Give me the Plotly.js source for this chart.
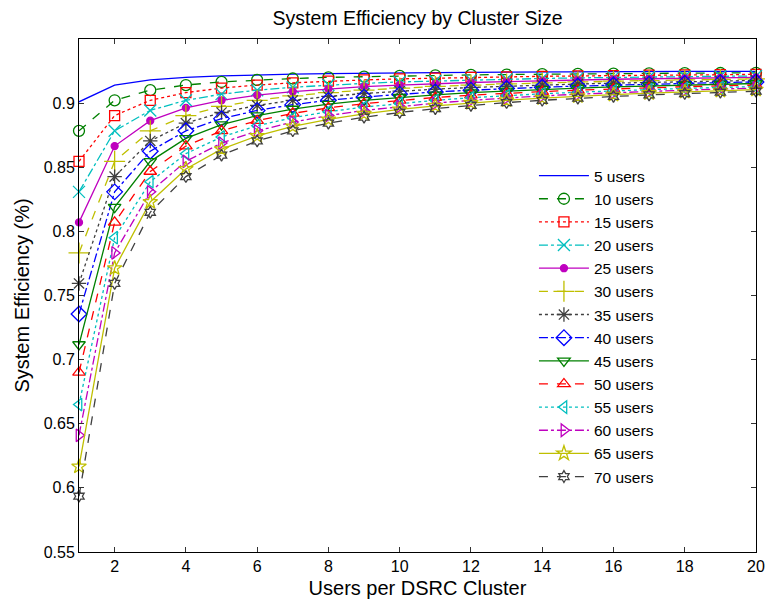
<!DOCTYPE html>
<html>
<head>
<meta charset="utf-8">
<script src="https://cdn.plot.ly/plotly-3.0.1.min.js"></script>
<style>html,body{margin:0;padding:0;background:#fff;}#chart{width:765px;height:600px;}</style>
</head>
<body>
<div id="chart"></div>
<script>
// Users per DSRC cluster (x values)
const usersPerCluster = [1,2,3,4,5,6,7,8,9,10,11,12,13,14,15,16,17,18,19,20];

// Series names
const seriesNames = ["5 users","10 users","15 users","20 users","25 users","30 users","35 users",
                     "40 users","45 users","50 users","55 users","60 users","65 users","70 users"];

// System efficiency values
const eff5  = [0.901,0.9141,0.9181,0.9201,0.9212,0.9220,0.9226,0.9230,0.9234,0.9236,0.9238,0.9240,0.9242,0.9243,0.9244,0.9245,0.9246,0.9247,0.9247,0.9248];
const eff10 = [0.8784,0.9022,0.9101,0.9141,0.9165,0.9181,0.9192,0.9201,0.9207,0.9212,0.9217,0.9220,0.9223,0.9226,0.9228,0.9230,0.9232,0.9234,0.9235,0.9236];
const eff15 = [0.8546,0.8903,0.9022,0.9082,0.9117,0.9141,0.9158,0.9171,0.9181,0.9189,0.9195,0.9201,0.9205,0.9209,0.9212,0.9215,0.9218,0.9220,0.9222,0.9224];
const eff20 = [0.8308,0.8784,0.8943,0.9022,0.9070,0.9101,0.9124,0.9141,0.9154,0.9165,0.9173,0.9181,0.9187,0.9192,0.9197,0.9201,0.9204,0.9207,0.9210,0.9212];
const eff25 = [0.807,0.8665,0.8863,0.8963,0.9022,0.9062,0.9090,0.9111,0.9128,0.9141,0.9152,0.9161,0.9168,0.9175,0.9181,0.9186,0.9190,0.9194,0.9197,0.9201];
const eff30 = [0.7832,0.8546,0.8784,0.8903,0.8974,0.9022,0.9056,0.9082,0.9101,0.9117,0.9130,0.9141,0.9150,0.9158,0.9165,0.9171,0.9176,0.9181,0.9185,0.9189];
const eff35 = [0.7594,0.8427,0.8705,0.8844,0.8927,0.8982,0.9022,0.9052,0.9075,0.9093,0.9109,0.9122,0.9132,0.9141,0.9149,0.9156,0.9162,0.9167,0.9172,0.9177];
const eff40 = [0.7356,0.8308,0.8625,0.8784,0.8879,0.8943,0.8988,0.9022,0.9048,0.9070,0.9087,0.9101,0.9114,0.9124,0.9133,0.9141,0.9148,0.9154,0.9160,0.9165];
const eff45 = [0.7118,0.8189,0.8546,0.8725,0.8832,0.8903,0.8954,0.8992,0.9022,0.9046,0.9065,0.9082,0.9095,0.9107,0.9117,0.9126,0.9134,0.9141,0.9147,0.9153];
const eff50 = [0.690,0.807,0.8467,0.8665,0.8784,0.8863,0.8920,0.8963,0.8996,0.9022,0.9044,0.9062,0.9077,0.9090,0.9101,0.9111,0.9120,0.9128,0.9135,0.9141];
const eff55 = [0.6650,0.7951,0.8387,0.8606,0.8736,0.8824,0.8886,0.8933,0.8969,0.8998,0.9022,0.9042,0.9059,0.9073,0.9085,0.9096,0.9106,0.9115,0.9122,0.9129];
const eff60 = [0.6410,0.7832,0.8308,0.8546,0.8689,0.8784,0.8852,0.8903,0.8943,0.8974,0.9000,0.9022,0.9040,0.9056,0.9070,0.9082,0.9092,0.9101,0.9110,0.9117];
const eff65 = [0.6166,0.7713,0.8229,0.8487,0.8641,0.8744,0.8818,0.8873,0.8916,0.8951,0.8979,0.9002,0.9022,0.9039,0.9054,0.9066,0.9078,0.9088,0.9097,0.9105];
const eff70 = [0.5935,0.7594,0.8149,0.8427,0.8594,0.8705,0.8784,0.8844,0.8890,0.8927,0.8957,0.8982,0.9004,0.9022,0.9038,0.9052,0.9064,0.9075,0.9085,0.9093];

const seriesValues = [eff5,eff10,eff15,eff20,eff25,eff30,eff35,eff40,eff45,eff50,eff55,eff60,eff65,eff70];

// Tick labels
const xTickVals = [2,4,6,8,10,12,14,16,18,20];
const xTickText = ["2","4","6","8","10","12","14","16","18","20"];
const yTickVals = [0.55,0.6,0.65,0.7,0.75,0.8,0.85,0.9];
const yTickText = ["0.55","0.6","0.65","0.7","0.75","0.8","0.85","0.9"];

// Styles (MATLAB-like)
const B = "#0000ff", G = "#008000", R = "#ff0000", C = "#00bfbf", M = "#bf00bf", Y = "#bfbf00", K = "#404040";
const styles = [
  {color:B, dash:"solid",   symbol:null,                 size:0},
  {color:G, dash:"dash",    symbol:"circle-open",        size:11},
  {color:R, dash:"dot",     symbol:"square-open",        size:10},
  {color:C, dash:"dashdot", symbol:"x-thin-open",        size:12},
  {color:M, dash:"solid",   symbol:"circle",             size:7},
  {color:Y, dash:"dash",    symbol:"cross-thin-open",    size:15},
  {color:K, dash:"dot",     symbol:"asterisk-open",      size:12},
  {color:B, dash:"dashdot", symbol:"diamond-open",       size:12},
  {color:G, dash:"solid",   symbol:"triangle-down-open", size:11},
  {color:R, dash:"dash",    symbol:"triangle-up-open",   size:11},
  {color:C, dash:"dot",     symbol:"triangle-left-open", size:11},
  {color:M, dash:"dashdot", symbol:"triangle-right-open",size:11},
  {color:Y, dash:"solid",   symbol:"star-open",          size:11},
  {color:K, dash:"dash",    symbol:"hexagram-open",      size:9}
];

const traces = seriesValues.map((vals, i) => {
  const s = styles[i];
  const t = {
    x: usersPerCluster, y: vals, name: seriesNames[i], type: "scatter",
    mode: s.symbol ? "lines+markers" : "lines",
    line: {color: s.color, width: 1.3, dash: s.dash},
    cliponaxis: false
  };
  if (s.symbol) {
    t.marker = {symbol: s.symbol, size: s.size, color: s.color, line: {color: s.color, width: 1.3}};
  }
  return t;
});

const font = "Liberation Sans, Arial, Helvetica, sans-serif";
const layout = {
  width: 765, height: 600,
  margin: {l: 79, r: 9, t: 39, b: 48},
  paper_bgcolor: "#fff", plot_bgcolor: "#fff",
  font: {family: font, size: 16, color: "#000"},
  title: {text: "System Efficiency by Cluster Size", font: {family: font, size: 19.5, color: "#000"},
          x: 0.5, xref: "paper", xanchor: "center", y: 0.97, yanchor: "middle"},
  xaxis: {
    range: [1, 20], tickvals: xTickVals, ticktext: xTickText,
    ticks: "inside", ticklen: 5, tickcolor: "#333", tickwidth: 1,
    showline: true, linecolor: "#000", linewidth: 1, mirror: "ticks",
    showgrid: false, zeroline: false, ticklabeloverflow: "allow",
    tickfont: {family: font, size: 16, color: "#000"},
    title: {text: "Users per DSRC Cluster", font: {family: font, size: 20, color: "#000"}, standoff: 6}
  },
  yaxis: {
    range: [0.55, 0.95], tickvals: yTickVals, ticktext: yTickText,
    ticks: "inside", ticklen: 5, tickcolor: "#333", tickwidth: 1,
    showline: true, linecolor: "#000", linewidth: 1, mirror: "ticks",
    showgrid: false, zeroline: false,
    tickfont: {family: font, size: 16, color: "#000"},
    title: {text: "System Efficiency (%)", font: {family: font, size: 20, color: "#000"}, standoff: 8}
  },
  legend: {
    x: 0.672, y: 0.766, xanchor: "left", yanchor: "top",
    bgcolor: "rgba(255,255,255,1)", borderwidth: 0,
    font: {family: font, size: 15.5, color: "#000"},
    itemwidth: 50,
    tracegroupgap: 0
  },
  showlegend: true
};

Plotly.newPlot("chart", traces, layout, {displayModeBar: false, staticPlot: true});
</script>
</body>
</html>
